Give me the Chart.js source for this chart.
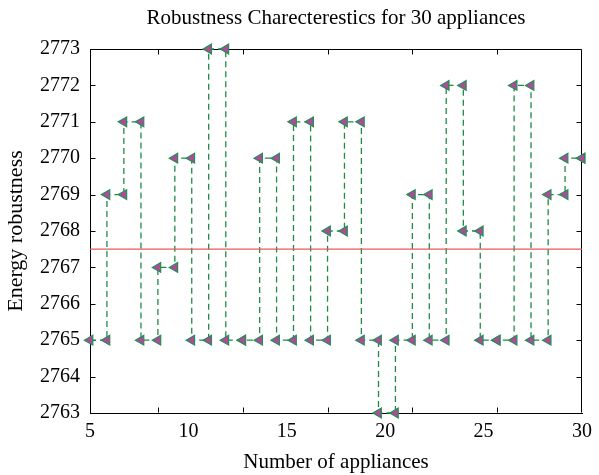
<!DOCTYPE html>
<html>
<head>
<meta charset="utf-8">
<script src="https://cdn.jsdelivr.net/npm/chart.js@4.4.1/dist/chart.umd.min.js"></script>
<style>
  html, body { margin: 0; padding: 0; background: #fff; }
  #wrap { width: 599px; height: 475px; }
</style>
</head>
<body>
<div id="wrap"><canvas id="robustChart"></canvas></div>
<script>
// x position of each of the 30 appliances (evenly spread between 5 and 30)
const appliances = [5.00, 5.86, 6.72, 7.59, 8.45, 9.31, 10.17, 11.03, 11.90, 12.76,
                    13.62, 14.48, 15.34, 16.21, 17.07, 17.93, 18.79, 19.66, 20.52, 21.38,
                    22.24, 23.10, 23.97, 24.83, 25.69, 26.55, 27.41, 28.28, 29.14, 30.00];
// energy robustness per appliance
const robustness = [2765, 2769, 2771, 2765, 2767, 2770, 2765, 2773, 2765, 2765,
                    2770, 2765, 2771, 2765, 2768, 2771, 2765, 2763, 2765, 2769,
                    2765, 2772, 2768, 2765, 2765, 2772, 2765, 2769, 2770, 2770];
const meanLevel = 2767.5;
const xTickLabels = [5, 10, 15, 20, 25, 30];
const yTickLabels = [2763, 2764, 2765, 2766, 2767, 2768, 2769, 2770, 2771, 2772, 2773];
// frame tick marks sit on every 5th appliance
const tickMarkIdx = [5, 10, 15, 20, 25];

const FONT = "'Liberation Serif', 'Times New Roman', serif";

// stairs: each value is held until the next appliance
var stairs = [];
for (var i = 0; i < appliances.length - 1; i++) {
    stairs.push({ x: appliances[i], y: robustness[i] });
    stairs.push({ x: appliances[i + 1], y: robustness[i] });
}
stairs.push({ x: appliances[appliances.length - 1], y: robustness[robustness.length - 1] });

// top/right frame plus the small inward tick marks
const frameTicks = {
    id: 'frameTicks',
    beforeDatasetsDraw(chart) {
        const { ctx, chartArea: a, scales: { x, y } } = chart;
        const L = Math.round(a.left) + 0.5, R = Math.round(a.right) - 0.5;
        const T = Math.round(a.top) + 0.5, B = Math.round(a.bottom) - 0.5;
        const len = 5;
        ctx.save();
        ctx.strokeStyle = '#000';
        ctx.lineWidth = 1;
        ctx.beginPath();
        ctx.moveTo(L, T); ctx.lineTo(R, T); ctx.lineTo(R, B);
        tickMarkIdx.forEach(function (k) {
            const px = Math.round(x.getPixelForValue(appliances[k - 1])) + 0.5;
            ctx.moveTo(px, B); ctx.lineTo(px, B - len);
            ctx.moveTo(px, T); ctx.lineTo(px, T + len);
        });
        yTickLabels.forEach(function (v) {
            const py = Math.round(y.getPixelForValue(v)) + 0.5;
            ctx.moveTo(L, py); ctx.lineTo(L + len, py);
            ctx.moveTo(R, py); ctx.lineTo(R - len, py);
        });
        ctx.stroke();
        ctx.restore();
    },
    afterDraw(chart) {
        const { ctx, chartArea: a } = chart;
        ctx.save();
        ctx.fillStyle = '#000';
        ctx.font = '21px ' + FONT;
        ctx.textAlign = 'center';
        ctx.textBaseline = 'middle';
        ctx.fillText('Robustness Charecterestics for 30 appliances', (a.left + a.right) / 2, 18);
        ctx.restore();
    }
};

var ctxRob = document.getElementById('robustChart').getContext('2d');
new Chart(ctxRob, {
    type: 'line',
    data: {
        datasets: [{
            // mean level, drawn on top
            data: [{ x: xTickLabels[0], y: meanLevel }, { x: xTickLabels[xTickLabels.length - 1], y: meanLevel }],
            borderColor: '#e85a58',
            borderWidth: 1.2,
            pointRadius: 0,
            fill: false
        }, {
            data: stairs,
            borderColor: '#1f8a4a',
            borderWidth: 1.3,
            borderDash: [6, 4],
            fill: false,
            tension: 0,
            clip: false,
            pointStyle: 'triangle',
            pointRotation: -90,
            pointRadius: 5.6,
            pointBackgroundColor: '#b0489f',
            pointBorderColor: '#23904f',
            pointBorderWidth: 1.2
        }]
    },
    options: {
        responsive: true,
        maintainAspectRatio: false,
        animation: false,
        layout: { padding: { top: 49, right: 11, left: 0, bottom: 0 } },
        plugins: {
            legend: { display: false },
            tooltip: { enabled: false }
        },
        scales: {
            x: {
                type: 'linear',
                min: 5,
                max: 30,
                afterBuildTicks: function (scale) {
                    scale.ticks = xTickLabels.map(function (v) { return { value: v }; });
                },
                afterFit: function (scale) { scale.height = 62; },
                grid: { display: false, drawTicks: false },
                border: { display: true, color: '#000', width: 1 },
                ticks: {
                    color: '#000', padding: 7, maxRotation: 0,
                    font: { family: FONT, size: 20 },
                    callback: function (v) { return String(v); }
                },
                title: {
                    display: true,
                    text: 'Number of appliances',
                    color: '#000',
                    padding: { top: 6, bottom: 0 },
                    font: { family: FONT, size: 21 }
                }
            },
            y: {
                min: 2763,
                max: 2773,
                afterBuildTicks: function (scale) {
                    scale.ticks = yTickLabels.map(function (v) { return { value: v }; });
                },
                afterFit: function (scale) { scale.width = 90; },
                grid: { display: false, drawTicks: false },
                border: { display: true, color: '#000', width: 1 },
                ticks: {
                    color: '#000', padding: 10,
                    font: { family: FONT, size: 20 },
                    callback: function (v) { return String(v); }
                },
                title: {
                    display: true,
                    text: 'Energy robustness',
                    color: '#000',
                    padding: { top: 3, bottom: 0 },
                    font: { family: FONT, size: 22 }
                }
            }
        }
    },
    plugins: [frameTicks]
});
</script>
</body>
</html>
